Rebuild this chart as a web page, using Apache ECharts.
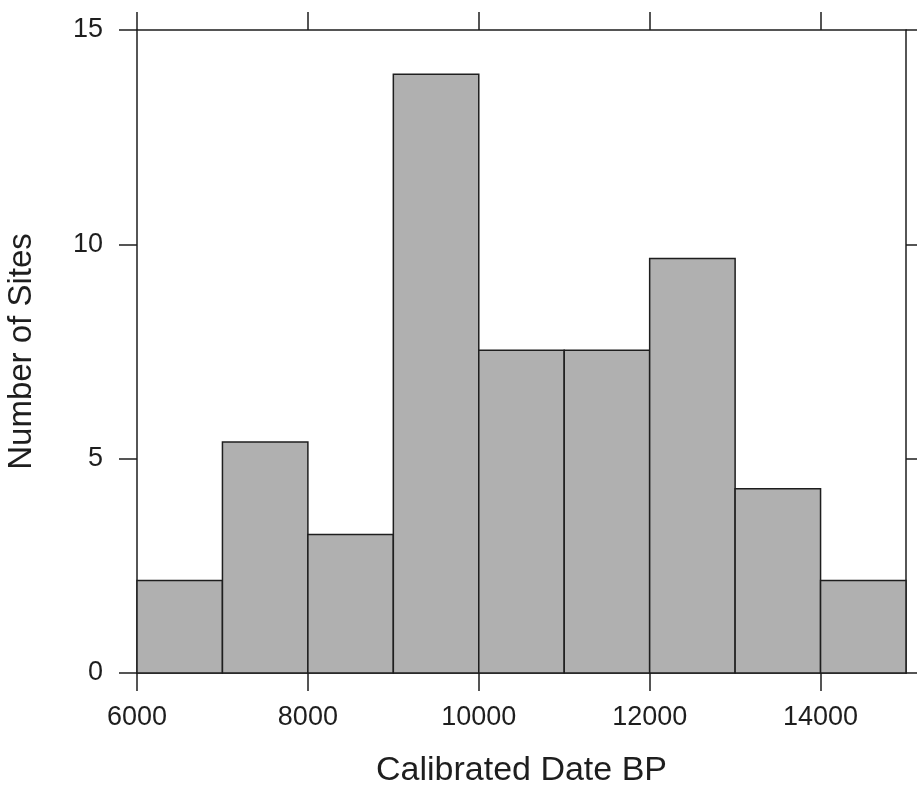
<!DOCTYPE html>
<html>
<head>
<meta charset="utf-8">
<script src="https://cdn.jsdelivr.net/npm/echarts@6/dist/echarts.min.js"></script>
<style>
html,body{margin:0;padding:0;background:#fff;}
#chart{width:917px;height:793px;}
</style>
</head>
<body>
<div id="chart"></div>
<script>
const binStarts = [6000, 7000, 8000, 9000, 10000, 11000, 12000, 13000, 14000];
const binEnds = [7000, 8000, 9000, 10000, 11000, 12000, 13000, 14000, 15000];
const siteCounts = [2.16, 5.39, 3.23, 13.97, 7.53, 7.53, 9.67, 4.30, 2.16];
const xTickValues = [6000, 8000, 10000, 12000, 14000];
const yTickValues = [0, 5, 10, 15];

const histData = binStarts.map((s, i) => [s, binEnds[i], siteCounts[i]]);

const FONT = '"Liberation Sans", Arial, Helvetica, sans-serif';
const INK = '#1e1e1e';
const lineStyle = { color: INK, width: 1.5 };
const plain = v => String(v);

const chart = echarts.init(document.getElementById('chart'), null, { renderer: 'canvas' });
chart.setOption({
  animation: false,
  backgroundColor: '#ffffff',
  grid: { left: 137, right: 11, top: 30, bottom: 120, containLabel: false, outerBoundsMode: 'none' },
  xAxis: [
    {
      type: 'value', position: 'bottom', min: 6000, max: 15000,
      name: 'Calibrated Date BP', nameLocation: 'middle', nameGap: 81,
      nameTextStyle: { fontFamily: FONT, fontSize: 34, color: INK },
      axisLine: { show: true, onZero: false, lineStyle },
      axisTick: { show: true, inside: false, length: 18, lineStyle, customValues: xTickValues },
      axisLabel: { show: true, fontFamily: FONT, fontSize: 27, color: INK, margin: 31, customValues: xTickValues, formatter: plain },
      splitLine: { show: false }
    },
    {
      type: 'value', position: 'top', min: 6000, max: 15000,
      axisLine: { show: true, onZero: false, lineStyle },
      axisTick: { show: true, inside: false, length: 18, lineStyle, customValues: xTickValues },
      axisLabel: { show: false },
      splitLine: { show: false }
    }
  ],
  yAxis: [
    {
      type: 'value', position: 'left', min: 0, max: 15, interval: 5,
      name: 'Number of Sites', nameLocation: 'middle', nameGap: 99,
      nameTextStyle: { fontFamily: FONT, fontSize: 33, color: INK },
      axisLine: { show: true, onZero: false, lineStyle },
      axisTick: { show: true, inside: false, length: 18, lineStyle, customValues: yTickValues },
      axisLabel: { show: true, fontFamily: FONT, fontSize: 27, color: INK, margin: 34, customValues: yTickValues, formatter: plain },
      splitLine: { show: false }
    },
    {
      type: 'value', position: 'right', min: 0, max: 15, interval: 5,
      axisLine: { show: true, onZero: false, lineStyle },
      axisTick: { show: true, inside: false, length: 18, lineStyle, customValues: yTickValues },
      axisLabel: { show: false },
      splitLine: { show: false }
    }
  ],
  series: [{
    type: 'custom',
    xAxisIndex: 0,
    yAxisIndex: 0,
    data: histData,
    encode: { x: [0, 1], y: 2 },
    renderItem: function (params, api) {
      const topLeft = api.coord([api.value(0), api.value(2)]);
      const bottomRight = api.coord([api.value(1), 0]);
      return {
        type: 'rect',
        shape: {
          x: topLeft[0], y: topLeft[1],
          width: bottomRight[0] - topLeft[0],
          height: bottomRight[1] - topLeft[1]
        },
        style: { fill: '#b0b0b0', stroke: INK, lineWidth: 1.5 }
      };
    }
  }]
});
</script>
</body>
</html>
